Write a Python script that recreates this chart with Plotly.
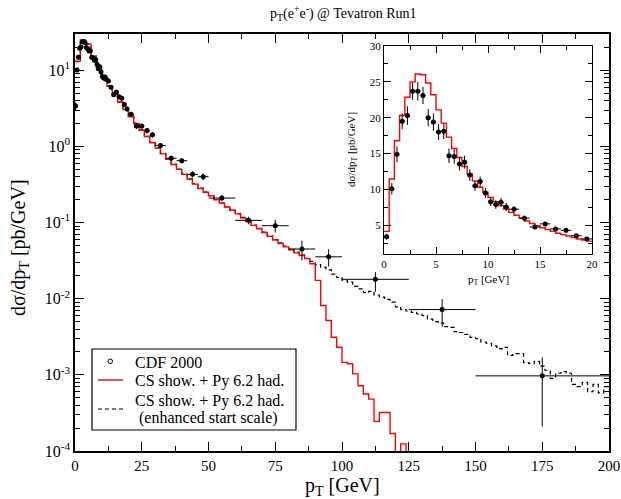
import math
import plotly.graph_objects as go

# ---------------- CDF 2000 data ----------------
cdf_pt = [0.25, 0.75, 1.25, 1.75, 2.25, 2.75, 3.25, 3.75, 4.25, 4.75,
          5.25, 5.75, 6.25, 6.75, 7.25, 7.75, 8.25, 8.75, 9.25, 9.75,
          10.25, 10.75, 11.25, 11.75, 12.5, 13.5, 14.5, 15.5, 16.5, 17.5,
          18.5, 19.5, 21, 23, 25, 27, 29, 32, 36, 40, 44, 48,
          55, 65, 75, 85, 95, 112.5, 137.5, 175]
cdf_sigma = [3.4, 10.1, 14.9, 19.5, 20.3, 23.7, 23.7, 23.1, 20.0, 19.4,
             18.0, 18.1, 14.7, 14.6, 13.55, 13.8, 12.0, 10.5, 11.1, 9.5,
             8.3, 7.9, 8.2, 7.55, 7.25, 6.0, 4.77, 5.2, 4.5, 4.3,
             3.55, 3.1, 2.65, 1.85, 1.86, 1.62, 1.42, 1.03, 0.70, 0.65, 0.43, 0.40,
             0.21, 0.107, 0.091, 0.045, 0.0355, 0.018, 0.0072, 0.00097]
cdf_err_up = [0.4, 0.8, 1.1, 1.1, 1.3, 1.2, 1.3, 1.2, 1.2, 1.2,
              1.1, 1.1, 1.0, 1.0, 0.9, 0.9, 0.8, 0.7, 0.7, 0.7,
              0.6, 0.6, 0.6, 0.55, 0.4, 0.35, 0.3, 0.3, 0.3, 0.3,
              0.25, 0.25, 0.2, 0.15, 0.15, 0.13, 0.12, 0.08, 0.06, 0.05, 0.04, 0.04,
              0.02, 0.012, 0.018, 0.013, 0.009, 0.0044, 0.0027, 0.00073]
cdf_err_dn = [0.4, 0.8, 1.1, 1.1, 1.3, 1.2, 1.3, 1.2, 1.2, 1.2,
              1.1, 1.1, 1.0, 1.0, 0.9, 0.9, 0.8, 0.7, 0.7, 0.7,
              0.6, 0.6, 0.6, 0.55, 0.4, 0.35, 0.3, 0.3, 0.3, 0.3,
              0.25, 0.25, 0.2, 0.15, 0.15, 0.13, 0.12, 0.08, 0.06, 0.05, 0.04, 0.04,
              0.02, 0.012, 0.017, 0.013, 0.009, 0.0057, 0.0029, 0.00076]
cdf_half_bin = [0.25] * 24 + [0.5] * 8 + [1.0] * 5 + [2.0] * 5 + [5.0] * 5 + [12.5, 12.5, 25.0]

# ---------------- MC histograms (main panel, 2 GeV bins) ----------------
red_main = [13.2, 25.0, 22.1, 15.2, 10.8, 8.0, 6.2, 4.8, 3.8, 3.05,
            2.45, 2.0, 1.63, 1.35, 1.12, 0.95, 0.80, 0.68, 0.58, 0.50,
            0.43, 0.37, 0.32, 0.28, 0.25, 0.225, 0.20, 0.18, 0.16, 0.145,
            0.13, 0.115, 0.103, 0.092, 0.083, 0.074, 0.066, 0.059, 0.053, 0.048,
            0.044, 0.040, 0.037, 0.0336, 0.0288, 0.0174, 0.00815, 0.00518, 0.00312, 0.00231,
            0.00146, 0.0014, 0.00103, 0.00072, 0.00056, 0.00048, 0.000245, 0.00032, 0.00032, 0.00017,
            0.00005, 0.000124, 0.00005]
black_main = [13.0, 24.6, 22.3, 15.4, 10.9, 8.1, 6.3, 4.85, 3.85, 3.1,
              2.5, 2.02, 1.65, 1.36, 1.13, 0.96, 0.81, 0.69, 0.585, 0.505,
              0.435, 0.375, 0.325, 0.283, 0.252, 0.226, 0.202, 0.181, 0.162, 0.146,
              0.131, 0.117, 0.104, 0.093, 0.084, 0.075, 0.067, 0.060, 0.054, 0.049,
              0.045, 0.041, 0.0375, 0.034, 0.031, 0.028, 0.026, 0.024, 0.021, 0.019,
              0.0175, 0.0165, 0.0145, 0.0135, 0.012, 0.0125, 0.0112, 0.0105, 0.0098, 0.009,
              0.0078, 0.0072, 0.0069, 0.0066, 0.0063, 0.0060, 0.0054, 0.0050, 0.0048, 0.0043,
              0.0042, 0.0037, 0.0036, 0.0034, 0.0031, 0.0030, 0.0027, 0.0026, 0.0024, 0.0022,
              0.0023, 0.0018, 0.0019, 0.0019, 0.00145, 0.0014, 0.0015, 0.0013, 0.00115, 0.0009,
              0.00105, 0.0011, 0.00105, 0.00075, 0.0007, 0.0008, 0.0006, 0.00075, 0.00058, 0.0007]

# ---------------- MC histogram (inset, 0.5 GeV bins) ----------------
red_inset = [4.15, 11.45, 16.8, 20.3, 22.85, 25.0, 26.1, 26.0, 24.85, 23.2,
             21.1, 19.25, 17.3, 15.7, 14.45, 13.2, 12.15, 11.2, 10.3, 9.6,
             8.9, 8.3, 7.75, 7.25, 6.8, 6.4, 6.0, 5.6, 5.25, 4.95,
             4.65, 4.4, 4.15, 3.9, 3.7, 3.5, 3.3, 3.1, 2.95, 2.8]

main_bin = 2.0
inset_bin = 0.5

y_major = [1e-4, 1e-3, 1e-2, 1e-1, 1e0, 1e1]
y_major_text = ["10<sup>-4</sup>", "10<sup>-3</sup>", "10<sup>-2</sup>",
                "10<sup>-1</sup>", "10<sup>0</sup>", "10<sup>1</sup>"]
y_minor = [k * 10.0 ** e for e in range(-4, 2) for k in range(2, 10)]

legend_labels = ["CDF 2000", "CS show. + Py 6.2 had.", "CS show. + Py 6.2 had.",
                 " (enhanced start scale)"]


def hist_xy(values, width):
    xs = [i * width for i in range(len(values) + 1)]
    ys = list(values) + [values[-1]]
    return xs, ys


FONT = "Liberation Serif"
RED = "#ff0000"

fig = go.Figure()

rx, ry = hist_xy(red_main, main_bin)
bx, by = hist_xy(black_main, main_bin)
ix, iy = hist_xy(red_inset, inset_bin)

fig.add_trace(go.Scatter(x=bx, y=by, mode="lines", line_shape="hv",
                         line=dict(color="black", width=1.2, dash="4px,3px"),
                         xaxis="x", yaxis="y"))
fig.add_trace(go.Scatter(x=rx, y=ry, mode="lines", line_shape="hv",
                         line=dict(color=RED, width=1.4), xaxis="x", yaxis="y"))
fig.add_trace(go.Scatter(x=cdf_pt, y=cdf_sigma, mode="markers",
                         marker=dict(color="black", size=5, symbol="circle"),
                         error_y=dict(type="data", array=cdf_err_up, arrayminus=cdf_err_dn,
                                      color="black", thickness=1, width=0),
                         error_x=dict(type="data", array=cdf_half_bin,
                                      color="black", thickness=1, width=0),
                         xaxis="x", yaxis="y"))

# inset
fig.add_trace(go.Scatter(x=ix, y=iy, mode="lines", line_shape="hv",
                         line=dict(color=RED, width=1.4), xaxis="x2", yaxis="y2"))
ins_pt = [p for p in cdf_pt if p < 20]
n_in = len(ins_pt)
fig.add_trace(go.Scatter(x=ins_pt, y=cdf_sigma[:n_in], mode="markers",
                         marker=dict(color="black", size=5),
                         error_y=dict(type="data", array=cdf_err_up[:n_in],
                                      arrayminus=cdf_err_dn[:n_in],
                                      color="black", thickness=1, width=0),
                         error_x=dict(type="data", array=cdf_half_bin[:n_in],
                                      color="black", thickness=1, width=0),
                         xaxis="x2", yaxis="y2"))

L, R, T, B = 75, 12, 34, 48
W, H = 621, 499
pw, ph = W - L - R, H - T - B


def px(xp):
    return (xp - L) / pw


def py(yp):
    return (H - B - yp) / ph


axis_common = dict(showline=True, linecolor="black", mirror="ticks", ticks="inside",
                   tickcolor="black", showgrid=False, zeroline=False, automargin=False)

fig.update_layout(
    width=W, height=H,
    margin=dict(l=L, r=R, t=T, b=B),
    paper_bgcolor="white", plot_bgcolor="white",
    font=dict(family=FONT, color="black"),
    showlegend=False,
    xaxis=dict(range=[0, 200], tickvals=list(range(0, 201, 25)), ticklen=9, tickwidth=1.2,
               linewidth=1.6, tickfont=dict(size=15, family=FONT),
               minor=dict(dtick=12.5, tick0=0, ticklen=5, ticks="inside", tickcolor="black"),
               domain=[0, 1], **axis_common),
    yaxis=dict(type="log", range=[-4, math.log10(30)], tickvals=y_major, ticktext=y_major_text,
               ticklen=9, tickwidth=1.2, linewidth=1.6, tickfont=dict(size=16, family=FONT),
               minor=dict(tickvals=y_minor, ticklen=5, ticks="inside", tickcolor="black"),
               domain=[0, 1], **axis_common),
    xaxis2=dict(range=[0, 20], tickvals=[0, 5, 10, 15, 20], ticklen=7, linewidth=1,
                tickfont=dict(size=11, family=FONT), anchor="y2",
                domain=[px(384), px(592)],
                minor=dict(dtick=2.5, tick0=0, ticklen=4, ticks="inside", tickcolor="black"),
                **axis_common),
    yaxis2=dict(range=[1, 30], tickvals=[5, 10, 15, 20, 25, 30], ticklen=7, linewidth=1,
                tickfont=dict(size=11, family=FONT), anchor="x2",
                domain=[py(254), py(46)],
                minor=dict(dtick=2.5, tick0=0, ticklen=4, ticks="inside", tickcolor="black"),
                **axis_common),
)

annotations = [
    dict(text="p<sub>T</sub>(e<sup>+</sup>e<sup>-</sup>) @ Tevatron Run1", x=px(343), y=py(13),
         font=dict(size=14), xanchor="center"),
    dict(text="p<sub>T</sub> [GeV]", x=px(342), y=py(487), font=dict(size=20), xanchor="center"),
    dict(text="dσ/dp<sub>T</sub> [pb/GeV]", x=px(20), y=py(248), font=dict(size=20),
         textangle=-90, xanchor="center"),
    dict(text="p<sub>T</sub> [GeV]", x=px(488), y=py(280), font=dict(size=11), xanchor="center"),
    dict(text="dσ/dp<sub>T</sub> [pb/GeV]", x=px(352), y=py(150), font=dict(size=11),
         textangle=-90, xanchor="center"),
]
# legend texts
for label, yy in zip(legend_labels, [362, 381, 401, 418]):
    annotations.append(dict(text=label, x=px(133), y=py(yy), font=dict(size=16), xanchor="left"))

for a in annotations:
    a.update(xref="paper", yref="paper", showarrow=False, yanchor="middle")
    a["font"]["family"] = FONT
    a["font"]["color"] = "black"
fig.update_layout(annotations=annotations)

# legend frame and symbols
shapes = [
    dict(type="rect", x0=px(92), x1=px(296), y0=py(430), y1=py(349),
         line=dict(color="black", width=1.2), fillcolor="white", layer="above"),
    dict(type="circle", x0=px(108), x1=px(112.5), y0=py(363.5), y1=py(359),
         line=dict(color="black", width=1), layer="above"),
    dict(type="line", x0=px(98), x1=px(123), y0=py(380), y1=py(380),
         line=dict(color=RED, width=1.4), layer="above"),
    dict(type="line", x0=px(98), x1=px(123), y0=py(409), y1=py(409),
         line=dict(color="black", width=1.2, dash="4px,3px"), layer="above"),
]
for s in shapes:
    s.update(xref="paper", yref="paper")
fig.update_layout(shapes=shapes)

fig.write_html("out.html")
